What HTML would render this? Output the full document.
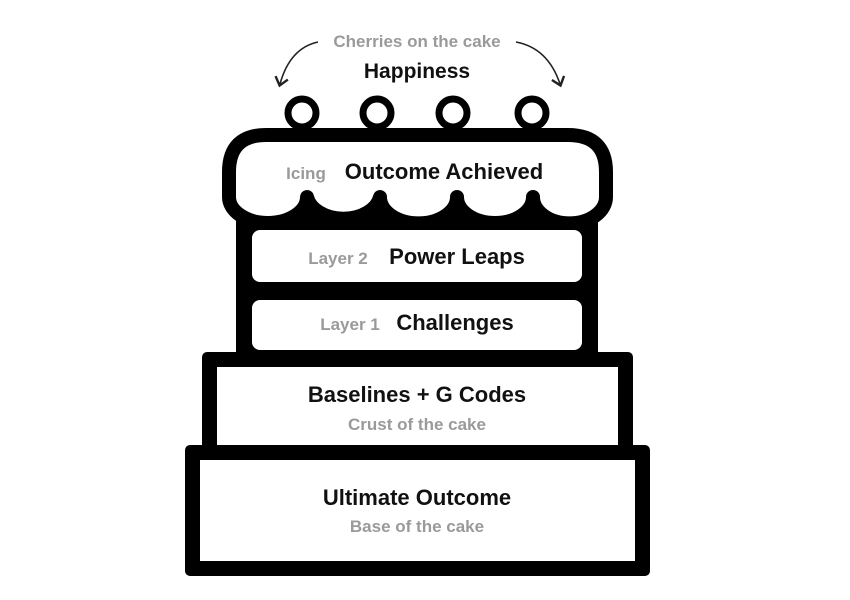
<!DOCTYPE html>
<html><head><meta charset="utf-8"><style>
html,body{margin:0;padding:0;background:#fff;width:850px;height:600px;overflow:hidden}
svg{display:block}
text{font-family:"Liberation Sans",sans-serif;text-anchor:middle}
.b{font-weight:bold;fill:#111}
.g{font-weight:bold;fill:#9a9a9a}
</style></head><body>
<svg width="850" height="600" viewBox="0 0 850 600">
<defs><marker id="ah" markerWidth="10" markerHeight="10" refX="5" refY="5" orient="auto"><path d="M1,1 L6,5 L1,9" fill="none" stroke="#222" stroke-width="1.5"/></marker></defs>
<path d="M318,42 Q290,48 280,84" fill="none" stroke="#222" stroke-width="1.6" marker-end="url(#ah)"/>
<path d="M516,42 Q548,48 560,84" fill="none" stroke="#222" stroke-width="1.6" marker-end="url(#ah)"/>
<text x="417" y="47" class="g" font-size="17">Cherries on the cake</text>
<text x="417" y="78" class="b" font-size="21">Happiness</text>
<g fill="#fff" stroke="#000" stroke-width="7">
<circle cx="302" cy="113" r="14"/><circle cx="377" cy="113" r="14"/><circle cx="453" cy="113" r="14"/><circle cx="532" cy="113" r="14"/>
</g>
<rect x="236" y="195" width="362" height="167" fill="#000"/>
<path d="M229,172 Q229,135 266,135 L568,135 Q606,135 606,172 L606,197 A36,26 0 0 1 533,197 A38,26 0 0 1 457,197 A38,26 0 0 1 380,197 A37,26 0 0 1 307,197 A39,26 0 0 1 229,197 Z" fill="#fff" stroke="#000" stroke-width="14" stroke-linejoin="round"/>
<rect x="252" y="230" width="330" height="52" rx="8" fill="#fff"/>
<rect x="252" y="300" width="330" height="50" rx="8" fill="#fff"/>
<rect x="202" y="352" width="431" height="100" rx="5" fill="#000"/>
<rect x="217" y="367" width="401" height="80" fill="#fff"/>
<rect x="185" y="445" width="465" height="131" rx="5" fill="#000"/>
<rect x="200" y="460" width="435" height="101" fill="#fff"/>
<text x="306" y="179" class="g" font-size="17">Icing</text>
<text x="444" y="179" class="b" font-size="22">Outcome Achieved</text>
<text x="338" y="264" class="g" font-size="17">Layer 2</text>
<text x="457" y="264" class="b" font-size="22">Power Leaps</text>
<text x="350" y="330" class="g" font-size="17">Layer 1</text>
<text x="455" y="330" class="b" font-size="22">Challenges</text>
<text x="417" y="402" class="b" font-size="22">Baselines + G Codes</text>
<text x="417" y="430" class="g" font-size="17">Crust of the cake</text>
<text x="417" y="505" class="b" font-size="22">Ultimate Outcome</text>
<text x="417" y="532" class="g" font-size="17">Base of the cake</text>
</svg>
</body></html>
